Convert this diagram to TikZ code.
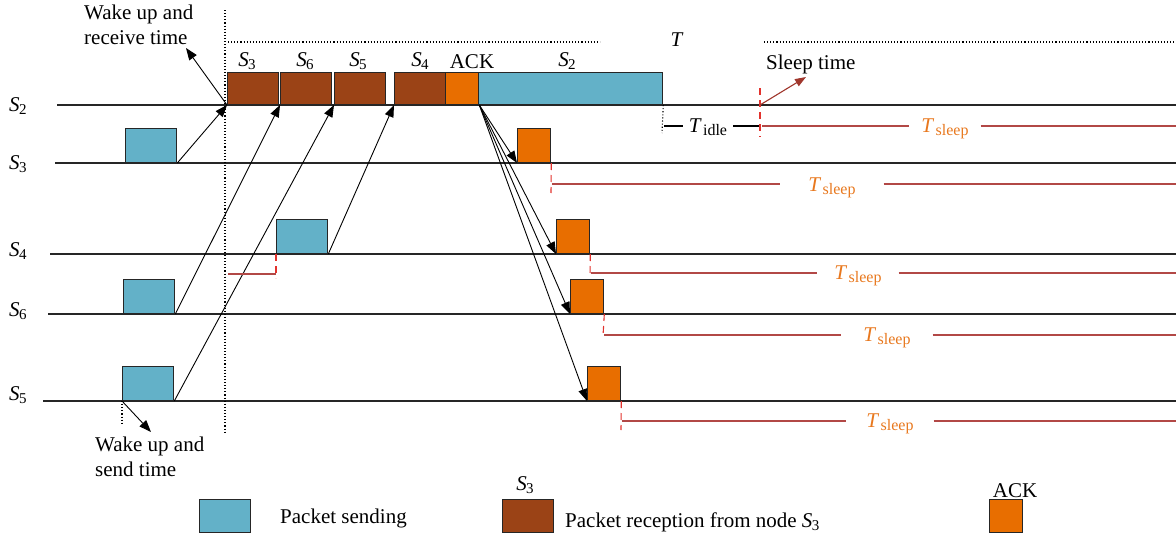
\documentclass[tikz,border=0pt]{standalone}
\usepackage{fontspec}
\setmainfont{Liberation Serif}
\usetikzlibrary{arrows.meta}
\definecolor{pblue}{RGB}{99,177,200}
\definecolor{pbrown}{RGB}{155,67,22}
\definecolor{porange}{RGB}{232,110,0}
\definecolor{rdash}{RGB}{226,50,45}
\definecolor{rline}{RGB}{178,72,70}
\definecolor{tslc}{RGB}{232,120,30}
\definecolor{sleeparr}{RGB}{160,55,45}
\newcommand{\Sn}[1]{\textit{S}\kern-0.03em\raisebox{-0.4ex}{\fontsize{15}{15}\selectfont #1}}
\newcommand{\Tsub}[1]{\textit{T}\kern0.06em\raisebox{-0.4ex}{\fontsize{16}{16}\selectfont #1}}
\begin{document}
\begin{tikzpicture}[x=1pt,y=-1pt,font=\fontsize{21}{24}\selectfont,
  tl/.style={line width=1.3pt, draw=black!85},
  box/.style={draw=black!85, line width=1.3pt, inner sep=0pt, anchor=south west},
  sbox/.style={box, fill=pblue, minimum width=51pt, minimum height=34pt},
  rbox/.style={box, fill=pbrown, minimum width=51pt, minimum height=32pt},
  abox/.style={box, fill=porange, minimum width=33pt, minimum height=34pt},
  arr/.style={-{Triangle[length=12pt,width=9pt]}, line width=0.9pt},
  rdsh/.style={draw=rdash, dash pattern=on 7pt off 5pt, line width=1.1pt},
  rln/.style={draw=rline, line width=1.3pt},
  dotl/.style={dotted, line width=1.1pt},
  tsl/.style={text=tslc, inner ysep=0pt},
  lbl/.style={inner sep=0pt}]
\useasboundingbox (0,0) rectangle (1176,538);

% timelines
\coordinate (l2a) at (57,105);  \coordinate (l2b) at (1176,105);
\coordinate (l3a) at (55,163);  \coordinate (l3b) at (1176,163);
\coordinate (l4a) at (50,254);  \coordinate (l4b) at (1176,254);
\coordinate (l6a) at (48,314);  \coordinate (l6b) at (1176,314);
\coordinate (l5a) at (43,401);  \coordinate (l5b) at (1176,401);
\draw[tl] (l2a) -- (l2b);
\draw[tl] (l3a) -- (l3b);
\draw[tl] (l4a) -- (l4b);
\draw[tl] (l6a) -- (l6b);
\draw[tl] (l5a) -- (l5b);

% row labels
\node[lbl, anchor=base west] (n2) at (9,111) {\Sn{2}};
\node[lbl, anchor=base west] (n3) at (9,169) {\Sn{3}};
\node[lbl, anchor=base west] (n4) at (9,256) {\Sn{4}};
\node[lbl, anchor=base west] (n6) at (9,316) {\Sn{6}};
\node[lbl, anchor=base west] (n5) at (9,400) {\Sn{5}};

% dotted guides
\coordinate (v1a) at (225,10); \coordinate (v1b) at (225,432);
\draw[dotl] (v1a) -- (v1b);
\coordinate (h1a) at (228,42); \coordinate (h1b) at (600,42);
\draw[dotl] (h1a) -- (h1b);
\coordinate (h2a) at (764,42); \coordinate (h2b) at (1176,42);
\draw[dotl] (h2a) -- (h2b);
\node[lbl] (T) at (677,40) {\textit{T}};

% S2 reception / sending boxes
\node[rbox] (r3) at (227,105) {};
\node[rbox] (r6) at (280,105) {};
\node[rbox] (r5) at (334,105) {};
\node[rbox] (r4) at (394,105) {};
\node[abox, minimum height=32pt] (ack2) at (445,105) {};
\node[sbox, minimum width=184pt, minimum height=32pt] (s2b) at (478,105) {};
\node[lbl, anchor=base] (lr3) at (247,66) {\Sn{3}};
\node[lbl, anchor=base] (lr6) at (305,66) {\Sn{6}};
\node[lbl, anchor=base] (lr5) at (358,66) {\Sn{5}};
\node[lbl, anchor=base] (lr4) at (420,66) {\Sn{4}};
\node[lbl, anchor=base] (lack) at (472,68) {ACK};
\node[lbl, anchor=base] (ls2) at (567,66) {\Sn{2}};

% sending boxes
\node[sbox] (b3) at (125,163) {};
\node[sbox] (b4) at (276,254) {};
\node[sbox] (b6) at (123,314) {};
\node[sbox] (b5) at (122,401) {};

% ACK boxes
\node[abox] (k3) at (517,163) {};
\node[abox] (k4) at (556,254) {};
\node[abox] (k6) at (570,314) {};
\node[abox] (k5) at (587,401) {};

% sending arrows
\draw[arr] (b3.south east) -- (r3.south west);
\draw[arr] (b6.south east) -- (r6.south west);
\draw[arr] (b5.south east) -- (r5.south west);
\draw[arr] (b4.south east) -- (r4.south west);

% ACK arrows
\draw[arr] (ack2.south east) -- (k3.south west);
\draw[arr] (ack2.south east) -- (k4.south west);
\draw[arr] (ack2.south east) -- (k6.south west);
\draw[arr] (ack2.south east) -- (k5.south west);

% wake up and receive
\node[lbl, align=left, anchor=north west, font=\fontsize{21}{24.5}\selectfont] (wr) at (84,5) {Wake up and\\receive time};
\coordinate (wrt) at (186,48);
\draw[arr] (r3.south west) -- (wrt);

% wake up and send
\coordinate (d5b) at (122,424);
\draw[dotl] (b5.south west) -- (d5b);
\node[lbl, align=left, anchor=north west, font=\fontsize{21}{24.5}\selectfont] (ws) at (95,437) {Wake up and\\send time};
\coordinate (wst) at (151,432);
\draw[arr] (b5.south west) -- (wst);

% S2 idle and sleep
\coordinate (id1) at (662,133);
\draw[dotl] (s2b.south east) -- (id1);
\coordinate (ida) at (664,126); \coordinate (idb) at (760,126);
\node[lbl, anchor=base, inner xsep=6pt] (tid) at (708,132) {\Tsub{idle}};
\draw[line width=1.1pt] (ida) -- (ida -| tid.west);
\draw[line width=1.1pt] (idb -| tid.east) -- (idb);
\coordinate (sd2a) at (760,88); \coordinate (sd2b) at (760,137);
\draw[rdsh] (sd2a) -- (sd2b);
\coordinate (sd2m) at (760,105);
\node[lbl, anchor=base west] (slp) at (766,69) {Sleep time};
\coordinate (slpt) at (806,77);
\draw[-{Triangle[length=11pt,width=8pt]}, draw=sleeparr, fill=sleeparr, line width=1.1pt] (sd2m) -- (slpt);
\coordinate (t2a) at (762,126); \coordinate (t2b) at (1176,126);
\node[tsl, anchor=base, inner xsep=12pt] (ts2) at (945,132) {\Tsub{sleep}};
\draw[rln] (t2a) -- (t2a -| ts2.west);
\draw[rln] (t2b -| ts2.east) -- (t2b);

% S3 sleep
\coordinate (sd3) at (551,193);
\draw[rdsh] (k3.south east) -- (sd3);
\coordinate (t3a) at (552,184); \coordinate (t3b) at (1176,184);
\node[tsl, anchor=base, inner xsep=28pt] (ts3) at (832,191) {\Tsub{sleep}};
\draw[rln] (t3a) -- (t3a -| ts3.west);
\draw[rln] (t3b -| ts3.east) -- (t3b);

% S4 early marker
\coordinate (sd4e) at (276,278);
\draw[rdsh] (b4.south west) -- (sd4e);
\coordinate (e4a) at (228,274); \coordinate (e4b) at (276,274);
\draw[rln] (e4a) -- (e4b);

% S4 sleep
\coordinate (sd4) at (590,276);
\draw[rdsh] (k4.south east) -- (sd4);
\coordinate (t4a) at (591,273); \coordinate (t4b) at (1176,273);
\node[tsl, anchor=base, inner xsep=17pt] (ts4) at (858,279) {\Tsub{sleep}};
\draw[rln] (t4a) -- (t4a -| ts4.west);
\draw[rln] (t4b -| ts4.east) -- (t4b);

% S6 sleep
\coordinate (sd6) at (603,336);
\draw[rdsh] (k6.south east) -- (sd6);
\coordinate (t6a) at (604,335); \coordinate (t6b) at (1176,335);
\node[tsl, anchor=base, inner xsep=22pt] (ts6) at (887,341) {\Tsub{sleep}};
\draw[rln] (t6a) -- (t6a -| ts6.west);
\draw[rln] (t6b -| ts6.east) -- (t6b);

% S5 sleep
\coordinate (sd5) at (621,430);
\draw[rdsh] (k5.south east) -- (sd5);
\coordinate (t5a) at (622,421); \coordinate (t5b) at (1176,421);
\node[tsl, anchor=base, inner xsep=20pt] (ts5) at (890,427) {\Tsub{sleep}};
\draw[rln] (t5a) -- (t5a -| ts5.west);
\draw[rln] (t5b -| ts5.east) -- (t5b);

% legend
\node[sbox, minimum height=33pt] (lg1) at (199,533) {};
\node[lbl, anchor=base west] (lg1t) at (280,523) {Packet sending};
\node[rbox, minimum height=33pt] (lg2) at (502,533) {};
\node[lbl, anchor=base] (lg2s) at (525,490) {\Sn{3}};
\node[lbl, anchor=base west] (lg2t) at (565,527) {Packet reception from node \Sn{3}};
\node[abox, minimum height=33pt] (lg3) at (989,533) {};
\node[lbl, anchor=base] (lg3t) at (1015,497) {ACK};
\end{tikzpicture}
\end{document}
